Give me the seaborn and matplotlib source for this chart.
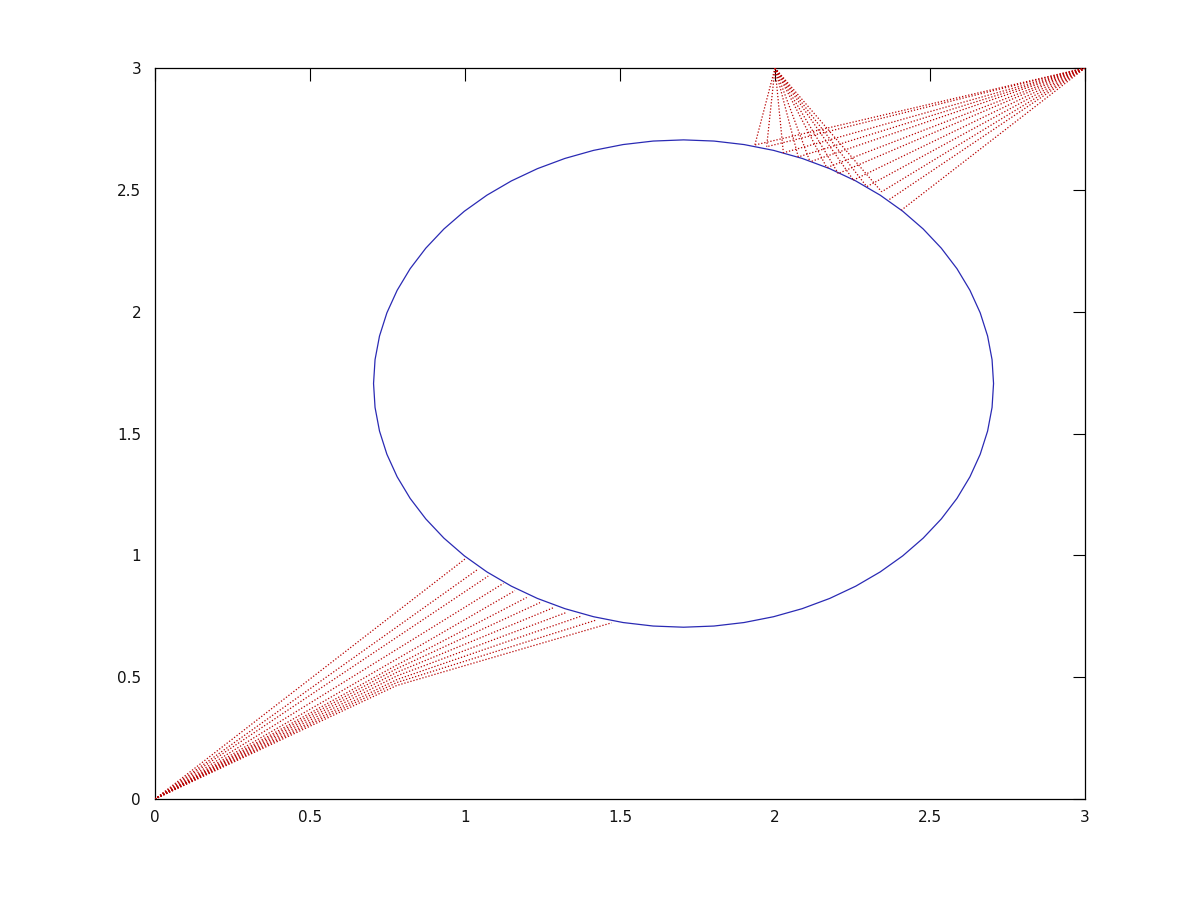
import numpy as np
import pandas as pd
import matplotlib
matplotlib.use("Agg")
import matplotlib.pyplot as plt
from matplotlib.patches import CirclePolygon
from matplotlib.ticker import FormatStrFormatter
import seaborn as sns

# circle
circle_center = (1.705, 1.705)
circle_radius = 1.0

# fan sources
origin = (0.0, 0.0)
top_source = (2.0, 3.0)
corner_source = (3.0, 3.0)

# lower-left fan end points
low_end_x = [1.000, 1.043, 1.075, 1.124, 1.161, 1.199, 1.242, 1.285, 1.328, 1.376, 1.425, 1.473]
low_end_y = [0.985, 0.944, 0.915, 0.885, 0.855, 0.827, 0.806, 0.785, 0.766, 0.751, 0.735, 0.723]
# bend points for the lower lines (None = straight from origin)
low_mid_x = [None, None, None, None, None, 0.78, 0.78, 0.78, 0.78, 0.78, 0.78, 0.78]
low_mid_y = [None, None, None, None, None, 0.550, 0.535, 0.520, 0.505, 0.490, 0.478, 0.466]

# upper fan end points
top_end_x = [1.935, 1.973, 2.027, 2.075, 2.113, 2.167, 2.204, 2.253, 2.296, 2.344, 2.366, 2.408]
top_end_y = [2.684, 2.677, 2.652, 2.635, 2.615, 2.591, 2.567, 2.540, 2.513, 2.492, 2.458, 2.417]
n_top_source = 10  # lines from (2, 3) reach the first ten end points

ticks = [0, 0.5, 1, 1.5, 2, 2.5, 3]

rows = []
seg = 0
for ex, ey, mx, my in zip(low_end_x, low_end_y, low_mid_x, low_mid_y):
    pts = [origin]
    if mx is not None:
        pts.append((mx, my))
    pts.append((ex, ey))
    for i, (px, py) in enumerate(pts):
        rows.append({"seg": seg, "order": i, "x": px, "y": py})
    seg += 1

for ex, ey in zip(top_end_x[:n_top_source], top_end_y[:n_top_source]):
    for i, (px, py) in enumerate([top_source, (ex, ey)]):
        rows.append({"seg": seg, "order": i, "x": px, "y": py})
    seg += 1

for ex, ey in zip(top_end_x, top_end_y):
    for i, (px, py) in enumerate([corner_source, (ex, ey)]):
        rows.append({"seg": seg, "order": i, "x": px, "y": py})
    seg += 1

df = pd.DataFrame(rows)

sns.set_style("white")
plt.rcParams["font.family"] = ["DejaVu Sans"]

fig = plt.figure(figsize=(12, 9), dpi=100)
ax = fig.add_axes([155 / 1200, 1 - 799 / 900, 930 / 1200, 731 / 900])

ax.add_patch(CirclePolygon(circle_center, circle_radius, resolution=64,
                           fill=False, edgecolor="#2a2ab4", linewidth=0.9, zorder=2))

sns.lineplot(data=df, x="x", y="y", units="seg", estimator=None, sort=False,
             color="#b80000", linewidth=0.9, linestyle=(0, (1, 1.5)), ax=ax,
             legend=False, zorder=3)

ax.set_xlim(0, 3)
ax.set_ylim(0, 3)
ax.set_xticks(ticks)
ax.set_yticks(ticks)
ax.xaxis.set_major_formatter(FormatStrFormatter("%g"))
ax.yaxis.set_major_formatter(FormatStrFormatter("%g"))
ax.set_xlabel("")
ax.set_ylabel("")
ax.tick_params(direction="in", length=9, width=0.8, color="black",
               top=True, right=True, labelsize=11, labelcolor="#111111")
ax.tick_params(axis="x", pad=8)
ax.tick_params(axis="y", pad=10)
for side in ax.spines.values():
    side.set_visible(True)
    side.set_color("black")
    side.set_linewidth(0.9)

fig.savefig("out.png", dpi=100, facecolor="white")
